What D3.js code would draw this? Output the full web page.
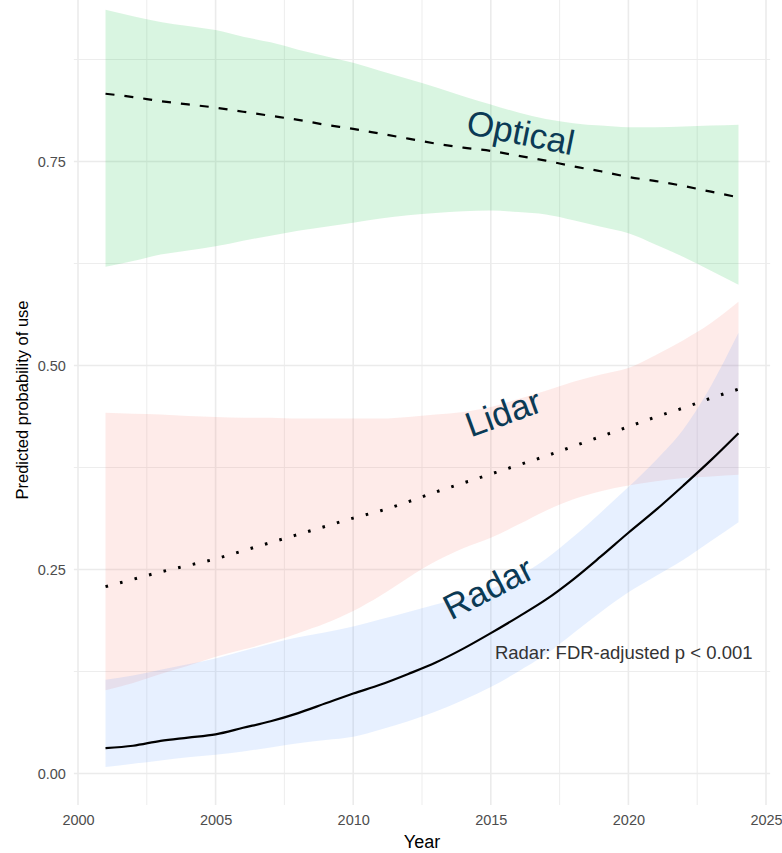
<!DOCTYPE html>
<html><head><meta charset="utf-8">
<script src="https://cdn.jsdelivr.net/npm/d3@7"></script>
<style>body{margin:0;background:#fff}svg text{font-family:"Liberation Sans",Arial,sans-serif}</style>
</head><body><svg id="c" width="782" height="853"></svg>
<script>
const years = d3.range(2001, 2025);
const opticalFit = [.833,.829,.824,.820,.816,.811,.806,.801,.795,.790,.784,.778,.772,.767,.763,.757,.751,.744,.738,.731,.726,.720,.713,.706];
const opticalLo  = [.621,.628,.636,.641,.646,.653,.659,.665,.670,.675,.680,.684,.687,.689,.690,.688,.685,.678,.670,.662,.648,.633,.616,.599];
const opticalHi  = [.936,.928,.921,.916,.911,.903,.896,.887,.879,.871,.861,.851,.841,.830,.820,.810,.802,.797,.794,.792,.792,.793,.794,.795];
const lidarFit = [.229,.238,.247,.255,.263,.273,.283,.293,.303,.313,.322,.333,.345,.356,.367,.378,.389,.401,.413,.425,.437,.448,.460,.471];
const lidarLo  = [.102,.111,.122,.132,.143,.152,.161,.172,.184,.199,.218,.240,.260,.276,.289,.305,.322,.336,.346,.353,.358,.362,.364,.366];
const lidarHi  = [.442,.441,.440,.438,.437,.436,.436,.435,.435,.435,.435,.437,.440,.443,.449,.459,.469,.480,.489,.497,.513,.531,.552,.578];
const radarFit = [.031,.034,.040,.044,.048,.056,.064,.074,.086,.098,.109,.122,.136,.153,.172,.192,.213,.238,.266,.295,.323,.353,.384,.417];
const radarLo  = [.008,.012,.016,.020,.023,.027,.032,.037,.041,.045,.054,.064,.076,.090,.106,.125,.146,.172,.198,.222,.242,.262,.285,.308];
const radarHi  = [.115,.120,.127,.134,.141,.150,.159,.167,.173,.180,.189,.198,.207,.216,.226,.242,.263,.290,.320,.351,.384,.422,.475,.540];
const xTicks = [2000,2005,2010,2015,2020,2025];
const yTicks = [0,0.25,0.5,0.75];
const yMinor = [0.125,0.375,0.625,0.875];

const series = [
  {name:"Optical", fit:opticalFit, lo:opticalLo, hi:opticalHi, color:"#00BA38", dash:"9,10", label:{x:2016.0,y:0.771,rot:11.5}},
  {name:"Lidar", fit:lidarFit, lo:lidarLo, hi:lidarHi, color:"#F8766D", dash:"2.6,12.4", label:{x:2015.6,y:0.428,rot:-20}},
  {name:"Radar", fit:radarFit, lo:radarLo, hi:radarHi, color:"#619CFF", dash:null, label:{x:2015.1,y:0.214,rot:-27}}
];

const svg = d3.select("#c");
const x = d3.scaleLinear().domain([2000,2025]).range([78,766]);
const y = d3.scaleLinear().domain([0,0.75]).range([773.5,161.5]);
const pLeft = x(1999.85), pRight = x(2025.15), pTop = 0, pBottom = 805;

const g = svg.append("g");
d3.range(2002.5, 2025, 5).forEach(v=>{
  g.append("line").attr("x1",x(v)).attr("x2",x(v)).attr("y1",pTop).attr("y2",pBottom).attr("stroke","#ebebeb").attr("stroke-width",0.9);
});
yMinor.forEach(v=>{
  g.append("line").attr("x1",pLeft).attr("x2",pRight).attr("y1",y(v)).attr("y2",y(v)).attr("stroke","#ebebeb").attr("stroke-width",0.9);
});
xTicks.forEach(v=>{
  g.append("line").attr("x1",x(v)).attr("x2",x(v)).attr("y1",pTop).attr("y2",pBottom).attr("stroke","#ebebeb").attr("stroke-width",1.6);
});
yTicks.forEach(v=>{
  g.append("line").attr("x1",pLeft).attr("x2",pRight).attr("y1",y(v)).attr("y2",y(v)).attr("stroke","#ebebeb").attr("stroke-width",1.6);
});

const area = d3.area().x((d,i)=>x(years[i])).y0(d=>y(d[0])).y1(d=>y(d[1])).curve(d3.curveMonotoneX);
const line = d3.line().x((d,i)=>x(years[i])).y(d=>y(d)).curve(d3.curveMonotoneX);

series.forEach(s=>{
  svg.append("path").datum(s.lo.map((v,i)=>[v,s.hi[i]])).attr("d",area).attr("fill",s.color).attr("fill-opacity",0.15);
});
series.forEach(s=>{
  const p = svg.append("path").datum(s.fit).attr("d",line).attr("fill","none").attr("stroke","#000")
    .attr("stroke-width", s.name==="Lidar" ? 3 : 2.2);
  if (s.dash) p.attr("stroke-dasharray", s.dash);
});
series.forEach(s=>{
  svg.append("text").attr("transform",`translate(${x(s.label.x)},${y(s.label.y)}) rotate(${s.label.rot})`)
    .attr("text-anchor","middle").attr("fill","#0b3a55").attr("font-size",35).text(s.name);
});
svg.append("text").attr("x",x(2015.15)).attr("y",y(0.14)).attr("fill","#333").attr("font-size",18.5)
  .text("Radar: FDR-adjusted p < 0.001");

const xa = svg.append("g").attr("transform",`translate(0,${pBottom})`)
  .call(d3.axisBottom(x).tickValues(xTicks).tickFormat(d3.format("d")).tickSize(0).tickPadding(10));
xa.select(".domain").remove();
xa.selectAll("text").attr("fill","#4d4d4d").attr("font-size",14.5);
const ya = svg.append("g").attr("transform",`translate(${pLeft},0)`)
  .call(d3.axisLeft(y).tickValues(yTicks).tickFormat(d3.format(".2f")).tickSize(0).tickPadding(8));
ya.select(".domain").remove();
ya.selectAll("text").attr("fill","#4d4d4d").attr("font-size",14.5);

svg.append("text").attr("x",(pLeft+pRight)/2).attr("y",848).attr("text-anchor","middle").attr("font-size",18).attr("fill","#000").text("Year");
svg.append("text").attr("transform",`translate(28,400) rotate(-90)`).attr("text-anchor","middle").attr("font-size",16.5).attr("fill","#000").text("Predicted probability of use");
</script></body></html>
